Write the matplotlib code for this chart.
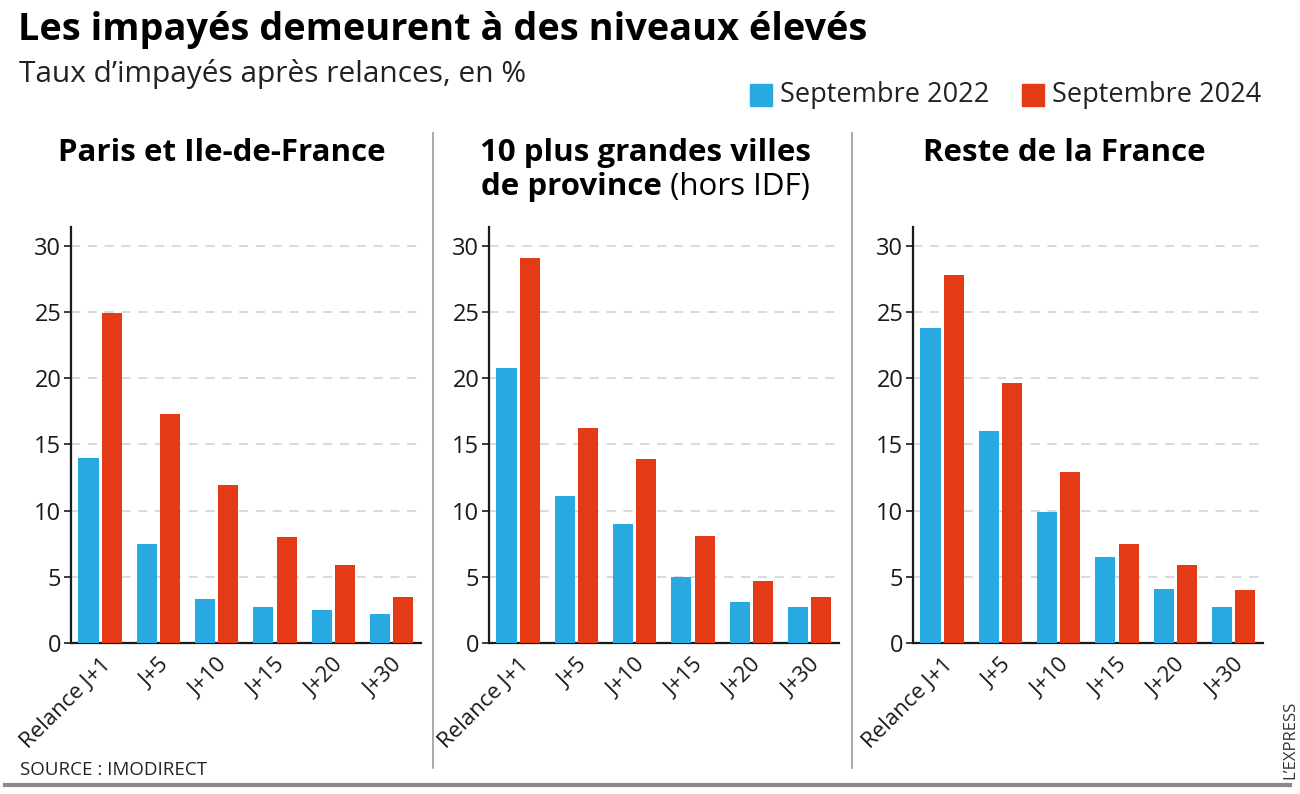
import numpy as np
import matplotlib.pyplot as plt
from matplotlib.lines import Line2D
from matplotlib.patches import Rectangle

plt.rcParams['font.family'] = ['Open Sans', 'DejaVu Sans']

# data
categories = ['Relance J+1', 'J+5', 'J+10', 'J+15', 'J+20', 'J+30']
series_names = ['Septembre 2022', 'Septembre 2024']

paris_2022 = [14.0, 7.5, 3.3, 2.7, 2.5, 2.2]
paris_2024 = [24.9, 17.3, 11.9, 8.0, 5.9, 3.5]

villes_2022 = [20.8, 11.1, 9.0, 5.0, 3.1, 2.7]
villes_2024 = [29.1, 16.2, 13.9, 8.1, 4.7, 3.5]

reste_2022 = [23.8, 16.0, 9.9, 6.5, 4.1, 2.7]
reste_2024 = [27.8, 19.6, 12.9, 7.5, 5.9, 4.0]

yticks = [0, 5, 10, 15, 20, 25, 30]

blue = '#29A9E1'
red = '#E43A16'
dark = '#1a1a1a'

W, H = 1300, 794
fig = plt.figure(figsize=(13, 7.94), dpi=100)

def fx(px):
    return px / W

def fy(py):
    return 1 - py / H

panels = [
    (0.0546, paris_2022, paris_2024),
    (0.3762, villes_2022, villes_2024),
    (0.7023, reste_2022, reste_2024),
]

x = np.arange(len(categories))
w = 0.345
for left, s1, s2 in panels:
    ax = fig.add_axes([left, 0.190, 0.269, 0.524])
    ax.bar(x - 0.2, s1, width=w, color=blue, zorder=3)
    ax.bar(x + 0.2, s2, width=w, color=red, zorder=3)
    ax.set_xlim(-0.5, 5.5)
    ax.set_ylim(0, 31.4)
    ax.set_yticks(yticks)
    ax.set_yticklabels([str(t) for t in yticks], fontsize=17, color=dark)
    for t in yticks[1:]:
        ax.axhline(t, color='#d0d0d0', lw=1.1, ls=(0, (6, 5)), zorder=1)
    ax.set_xticks(x)
    ax.set_xticklabels(categories, rotation=45, ha='right', va='top',
                       rotation_mode='anchor', fontsize=16, color=dark)
    ax.tick_params(axis='x', length=0, pad=8)
    ax.tick_params(axis='y', length=5, width=1.2, color=dark, pad=2)
    for s in ['top', 'right']:
        ax.spines[s].set_visible(False)
    for s in ['left', 'bottom']:
        ax.spines[s].set_linewidth(1.6)
        ax.spines[s].set_color(dark)

# title and subtitle
fig.text(fx(18), fy(30), 'Les impayés demeurent à des niveaux élevés',
         fontsize=27.3, fontweight='bold', color='black', va='center')
fig.text(fx(19), fy(74), 'Taux d\u2019impayés après relances, en %',
         fontsize=21.5, color='#222222', va='center')

# legend
fig.patches.append(Rectangle((fx(750), fy(106)), fx(22), 22 / H,
                             transform=fig.transFigure, color=blue))
fig.text(fx(780), fy(95), series_names[0], fontsize=19.5, color='#222222', va='center')
fig.patches.append(Rectangle((fx(1022), fy(106)), fx(22), 22 / H,
                             transform=fig.transFigure, color=red))
fig.text(fx(1052), fy(95), series_names[1], fontsize=19.5, color='#222222', va='center')

# panel titles
pt = 22.5
fig.text(fx(222), fy(153), 'Paris et Ile-de-France', fontsize=pt,
         fontweight='bold', ha='center', va='center', color='black')
fig.text(fx(645), fy(153), '10 plus grandes villes', fontsize=pt,
         fontweight='bold', ha='center', va='center', color='black')
# second line: bold + regular, centred together
ta = fig.text(0, fy(187), 'de province', fontsize=pt, fontweight='bold',
              ha='left', va='center', color='black')
tb = fig.text(0, fy(187), ' (hors IDF)', fontsize=pt, ha='left', va='center',
              color='black')
fig.canvas.draw()
wa = ta.get_window_extent().width
wb = tb.get_window_extent().width
start = 645 - (wa + wb) / 2
ta.set_x(fx(start))
tb.set_x(fx(start + wa))
fig.text(fx(1064), fy(153), 'Reste de la France', fontsize=pt,
         fontweight='bold', ha='center', va='center', color='black')

# separators
for xs in [433, 852]:
    fig.add_artist(Line2D([fx(xs), fx(xs)], [fy(133), fy(768)],
                          color='#9a9a9a', lw=1.2))
fig.add_artist(Line2D([fx(5), fx(1290)], [fy(785), fy(785)],
                      color='#8a8a8a', lw=3))

# footer
fig.text(fx(20), fy(770), 'SOURCE : IMODIRECT', fontsize=13.5,
         color='#222222', va='center')
fig.text(fx(1290), fy(740), 'L\u2019EXPRESS', fontsize=12, rotation=90,
         color='#333333', ha='center', va='center')

fig.savefig('out.png', dpi=100)
